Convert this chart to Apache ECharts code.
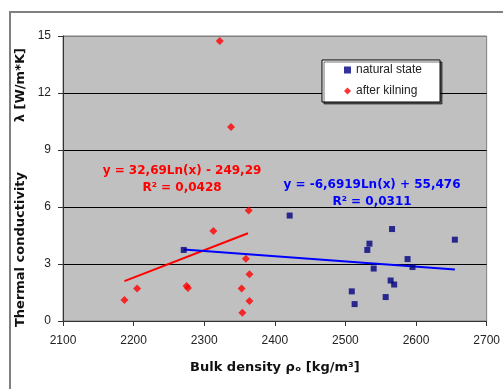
<!DOCTYPE html>
<html>
<head>
<meta charset="utf-8">
<script src="https://cdn.jsdelivr.net/npm/echarts@6/dist/echarts.min.js"></script>
<style>
html,body{margin:0;padding:0;background:#fff;}
#chart{width:503px;height:389px;}
</style>
</head>
<body>
<div id="chart"></div>
<script>
// ---- data ----
var naturalName = 'natural state';
var kilnedName = 'after kilning';

var naturalDensity = [2271, 2421, 2509, 2513, 2531, 2534, 2540, 2557, 2564, 2566, 2569, 2588, 2595, 2655];
var naturalLambda  = [3.74, 5.55, 1.56, 0.89, 3.74, 4.07, 2.76, 1.26, 2.13, 4.84, 1.92, 3.26, 2.84, 4.28];

var kilnedDensity = [2187, 2205, 2275, 2277, 2313, 2322, 2338, 2353, 2354, 2359, 2363, 2364, 2364];
var kilnedLambda  = [1.10, 1.71, 1.84, 1.74, 4.74, 14.74, 10.21, 1.71, 0.44, 3.28, 5.81, 2.46, 1.05];

// trend line end points
var naturalTrendX = [2271, 2655];
var naturalTrendY = [3.76, 2.71];
var kilnedTrendX = [2187, 2362];
var kilnedTrendY = [2.10, 4.62];

var naturalEquation = ['y = -6,6919Ln(x) + 55,476', 'R² = 0,0311'];
var kilnedEquation = ['y = 32,69Ln(x) - 249,29', 'R² = 0,0428'];

var xTicks = {min: 2100, max: 2700, step: 100};
var yTicks = {min: 0, max: 15, step: 3};

var xTitle = 'Bulk density ρₒ [kg/m³]';
var yTitleA = 'Thermal conductivity';
var yTitleB = 'λ [W/m*K]';

function zip(a, b) { return a.map(function (v, i) { return [v, b[i]]; }); }

var chart = echarts.init(document.getElementById('chart'), null, {renderer: 'canvas'});

var boldFont = 'DejaVu Sans';
var plainFont = 'Liberation Sans';

var option = {
  backgroundColor: '#ffffff',
  animation: false,
  grid: {
    left: 63, right: 14, top: 36, bottom: 68,
    show: true, backgroundColor: '#C0C0C0', borderColor: '#808080', borderWidth: 1
  },
  xAxis: {
    type: 'value', min: xTicks.min, max: xTicks.max, interval: xTicks.step,
    name: xTitle, nameLocation: 'middle', nameGap: 40,
    nameTextStyle: {fontFamily: boldFont, fontWeight: 'bold', fontSize: 13, color: '#111'},
    axisLine: {show: true, onZero: false, lineStyle: {color: '#333', width: 1}},
    axisTick: {show: true, inside: false, length: 5, lineStyle: {color: '#333'}},
    axisLabel: {fontFamily: plainFont, fontSize: 12, color: '#222', margin: 14,
      formatter: function (v) { return String(v); }},
    splitLine: {show: false}
  },
  yAxis: {
    type: 'value', min: yTicks.min, max: yTicks.max, interval: yTicks.step,
    name: yTitleA + '           ' + yTitleB + '    ', nameLocation: 'middle', nameGap: 34,
    nameTextStyle: {fontFamily: boldFont, fontWeight: 'bold', fontSize: 13, color: '#111'},
    axisLine: {show: true, onZero: false, lineStyle: {color: '#333', width: 1}},
    axisTick: {show: true, inside: false, length: 5, lineStyle: {color: '#333'}},
    axisLabel: {fontFamily: plainFont, fontSize: 12, color: '#222', margin: 12,
      formatter: function (v) { return String(v); }},
    splitLine: {show: true, lineStyle: {color: ['#000', '#000', '#000', '#000', '#000', '#808080'], width: 1}}
  },
  legend: {
    data: [naturalName, kilnedName],
    orient: 'vertical',
    left: 322, top: 60,
    padding: [3, 18, 4, 22],
    itemWidth: 7, itemHeight: 7, itemGap: 7,
    backgroundColor: '#ffffff', borderColor: '#000', borderWidth: 1,
    shadowColor: 'rgba(0,0,0,0.55)', shadowBlur: 0, shadowOffsetX: 2, shadowOffsetY: 2,
    textStyle: {fontFamily: plainFont, fontSize: 12, color: '#222', lineHeight: 14}
  },
  graphic: [
    {
      type: 'rect', silent: true, z: -1,
      shape: {x: 10, y: 12, width: 600, height: 500},
      style: {fill: 'none', stroke: '#808080', lineWidth: 2}
    },
    {
      type: 'text', left: 182 - 80, top: 162, z: 10,
      style: {
        text: kilnedEquation.join('\n'), fill: '#FF0000', align: 'center',
        font: 'bold 12px "DejaVu Sans"', lineHeight: 17, width: 160, textAlign: 'center'
      }
    },
    {
      type: 'text', left: 372 - 90, top: 176, z: 10,
      style: {
        text: naturalEquation.join('\n'), fill: '#0000FF', align: 'center',
        font: 'bold 12px "DejaVu Sans"', lineHeight: 17, width: 180, textAlign: 'center'
      }
    }
  ],
  series: [
    {
      name: 'kilnedTrend', type: 'line', data: zip(kilnedTrendX, kilnedTrendY),
      showSymbol: false, symbol: 'none', lineStyle: {color: '#FF0000', width: 2}, z: 3, silent: true
    },
    {
      name: 'naturalTrend', type: 'line', data: zip(naturalTrendX, naturalTrendY),
      showSymbol: false, symbol: 'none', lineStyle: {color: '#0000FF', width: 2}, z: 3, silent: true
    },
    {
      name: naturalName, type: 'scatter', data: zip(naturalDensity, naturalLambda),
      symbol: 'rect', symbolSize: 6, itemStyle: {color: '#000080'}, z: 5
    },
    {
      name: kilnedName, type: 'scatter', data: zip(kilnedDensity, kilnedLambda),
      symbol: 'diamond', symbolSize: 8, itemStyle: {color: '#FF0000'}, z: 5
    }
  ]
};
chart.setOption(option);
</script>
</body>
</html>
